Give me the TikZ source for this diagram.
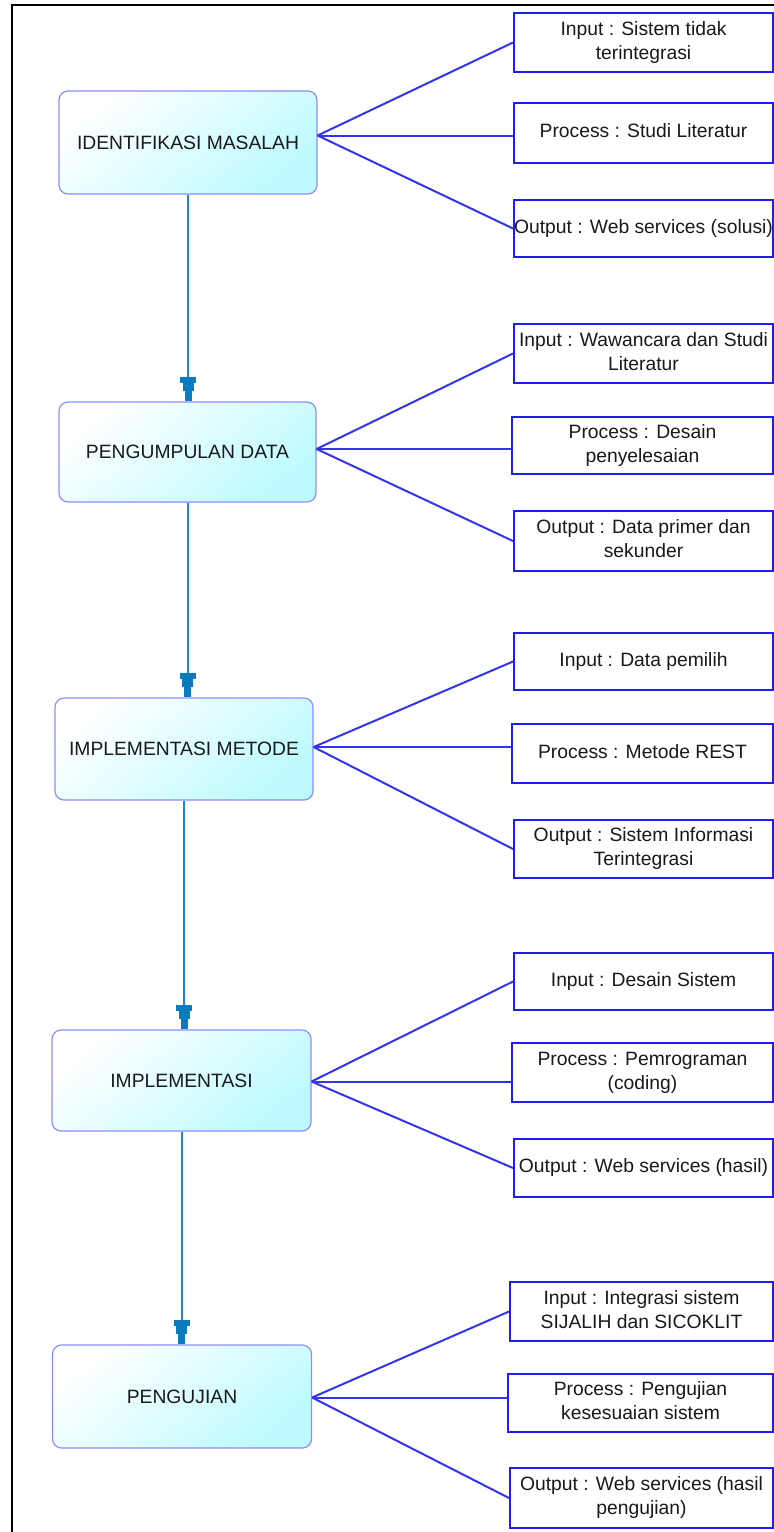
\documentclass[tikz,border=0pt]{standalone}
\usepackage{fontspec}
\setmainfont{Liberation Sans}
\usetikzlibrary{arrows.meta}
\definecolor{mainborder}{HTML}{8C8CFF}
\definecolor{cyanfill}{HTML}{BDFAFF}
\definecolor{rboxblue}{HTML}{1E1EF0}
\definecolor{linkblue}{HTML}{3434E8}
\definecolor{flowblue}{HTML}{2088C8}
\definecolor{tipblue}{HTML}{0A7BBE}
\newcommand\rbt[1]{\makebox[0pt]{\begin{tabular}{@{}c@{}}#1\end{tabular}}}
\tikzset{
  mainbox/.style={draw=mainborder, line width=1.2pt, rounded corners=9pt,
    top color=white, bottom color=cyanfill, shading angle=40, inner sep=0pt,
    font=\fontsize{19.3}{24}\selectfont, text=black!90},
  rbox/.style={draw=rboxblue, line width=2pt, fill=white, inner sep=0pt,
    minimum width=259pt, font=\fontsize{19.3}{24}\selectfont, text=black!90},
  link/.style={draw=linkblue, line width=2pt},
  flow/.style={draw=flowblue, line width=2pt,
    -{Rectangle[width=16pt,length=6pt,sep=0pt,color=tipblue]
      Rectangle[width=11pt,length=8pt,sep=0pt,color=tipblue]
      Rectangle[width=7pt,length=10pt,sep=0pt,color=tipblue]}},
}
\begin{document}
\begin{tikzpicture}[x=1pt,y=-1pt]
\useasboundingbox (0,0) rectangle (774,1532);
\draw[line width=2pt] (774,5) -- (12,5) -- (12,1532);

% main boxes
\node[mainbox, minimum width=258pt, minimum height=103pt] (m1) at (188,142.5) {IDENTIFIKASI MASALAH};
\node[mainbox, minimum width=257pt, minimum height=100pt] (m2) at (187.5,452) {PENGUMPULAN DATA};
\node[mainbox, minimum width=258pt, minimum height=102pt] (m3) at (184,749) {IMPLEMENTASI METODE};
\node[mainbox, minimum width=259pt, minimum height=101pt] (m4) at (181.5,1080.5) {IMPLEMENTASI};
\node[mainbox, minimum width=259pt, minimum height=103pt] (m5) at (182,1396.5) {PENGUJIAN};

% flow arrows
\draw[flow] (m1.south) -- (m1.south |- m2.north);
\draw[flow] (m2.south) -- (m2.south |- m3.north);
\draw[flow] (m3.south) -- (m3.south |- m4.north);
\draw[flow] (m4.south) -- (m4.south |- m5.north);

% group 1
\node[rbox, minimum height=59pt] (i1) at (643.5,42.5) {\rbt{Input : Sistem tidak\\terintegrasi}};
\node[rbox, minimum height=60pt] (p1) at (643.5,133) {\rbt{Process : Studi Literatur}};
\node[rbox, minimum height=57pt] (o1) at (643.5,228.5) {\rbt{Output : Web services (solusi)}};
% group 2
\node[rbox, minimum height=59pt] (i2) at (643.5,353.5) {\rbt{Input : Wawancara dan Studi\\Literatur}};
\node[rbox, minimum width=261pt, minimum height=57pt] (p2) at (642.5,445.5) {\rbt{Process : Desain\\penyelesaian}};
\node[rbox, minimum height=60pt] (o2) at (643.5,541) {\rbt{Output : Data primer dan\\sekunder}};
% group 3
\node[rbox, minimum height=57pt] (i3) at (643.5,661.5) {\rbt{Input : Data pemilih}};
\node[rbox, minimum width=261pt, minimum height=59pt] (p3) at (642.5,753.5) {\rbt{Process : Metode REST}};
\node[rbox, minimum height=58pt] (o3) at (643.5,849) {\rbt{Output : Sistem Informasi\\Terintegrasi}};
% group 4
\node[rbox, minimum height=57pt] (i4) at (643.5,981.5) {\rbt{Input : Desain Sistem}};
\node[rbox, minimum width=261pt, minimum height=59pt] (p4) at (642.5,1072.5) {\rbt{Process : Pemrograman\\(coding)}};
\node[rbox, minimum height=58pt] (o4) at (643.5,1168) {\rbt{Output : Web services (hasil)}};
% group 5
\node[rbox, minimum width=263pt, minimum height=59pt] (i5) at (641.5,1311.5) {\rbt{Input : Integrasi sistem\\SIJALIH dan SICOKLIT}};
\node[rbox, minimum width=265pt, minimum height=58pt] (p5) at (640.5,1403) {\rbt{Process : Pengujian\\kesesuaian sistem}};
\node[rbox, minimum width=263pt, minimum height=60pt] (o5) at (641.5,1498) {\rbt{Output : Web services (hasil\\pengujian)}};

% links
\foreach \g/\s in {1/7pt,2/3pt,3/2pt,4/-1pt,5/-1pt}{
  \coordinate (c\g) at ([yshift=\s]m\g.east);
  \draw[link] (c\g) -- (i\g.west);
  \draw[link] (c\g) -- (c\g -| p\g.west);
  \draw[link] (c\g) -- (o\g.west);
}
\end{tikzpicture}
\end{document}
